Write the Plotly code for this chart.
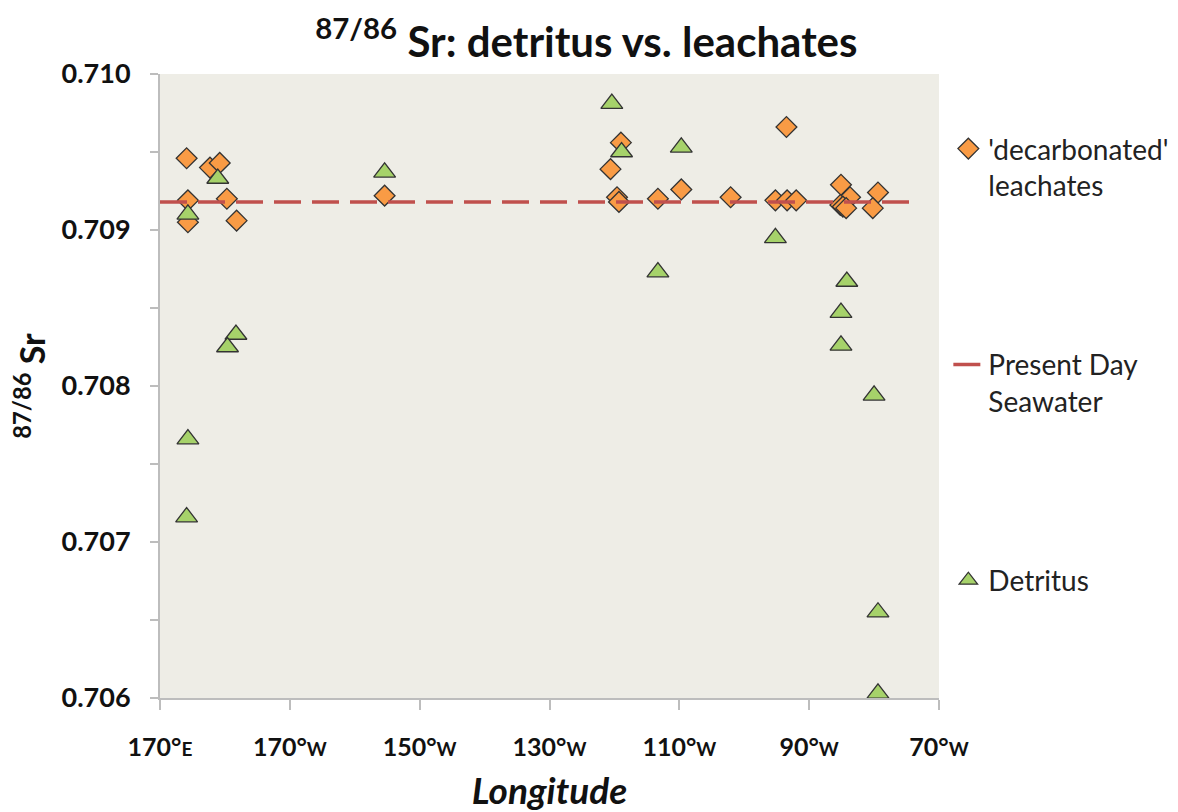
import plotly.graph_objects as go

# Longitude in degrees east (0-360 convention): 170E = 170, 170W = 190, ... 70W = 290
leach_lon = [174.1, 177.7, 179.2, 174.3, 174.3, 180.3, 181.8, 204.6,
             239.4, 241.0, 240.4, 240.7, 246.7, 250.3, 257.9, 264.8,
             266.6, 268.0, 266.5, 274.9, 276.3, 274.8, 275.2, 275.7,
             280.6, 279.8]
leach_sr = [0.70946, 0.70940, 0.70943, 0.70919, 0.70905, 0.70920, 0.70906, 0.70922,
            0.70939, 0.70956, 0.70921, 0.70918, 0.70920, 0.70926, 0.70921, 0.70919,
            0.70919, 0.70919, 0.70966, 0.70929, 0.70921, 0.70916, 0.70915, 0.70914,
            0.70924, 0.70914]

detritus_lon = [239.6, 241.1, 250.3, 246.7, 264.8, 275.8, 274.9, 274.9,
                280.0, 280.6, 280.6, 178.9, 174.3, 204.6, 181.7, 180.4,
                174.3, 174.1]
detritus_sr = [0.70981, 0.70950, 0.70953, 0.70873, 0.70895, 0.70867, 0.70847, 0.70826,
               0.70794, 0.70655, 0.70603, 0.70933, 0.70910, 0.70937, 0.70833, 0.70825,
               0.70766, 0.70716]

seawater_lon = [170, 286.4]
seawater_sr = [0.70918, 0.70918]

tick_vals = [170, 190, 210, 230, 250, 270, 290]
small = "<span style='font-size:19px'>{}</span>"
tick_text = ["<b>170°" + small.format("E") + "</b>", "<b>170°" + small.format("W") + "</b>",
             "<b>150°" + small.format("W") + "</b>", "<b>130°" + small.format("W") + "</b>",
             "<b>110°" + small.format("W") + "</b>", "<b>90°" + small.format("W") + "</b>",
             "<b>70°" + small.format("W") + "</b>"]

FONT = "Lato"
EDGE = "#333333"

fig = go.Figure()
fig.add_trace(go.Scatter(
    x=leach_lon, y=leach_sr, mode="markers",
    name="'decarbonated'<br>leachates", legendgroup="a",
    marker=dict(symbol="diamond", size=16, color="#F99B45",
                line=dict(color=EDGE, width=1.3)),
))
fig.add_trace(go.Scatter(
    x=seawater_lon, y=seawater_sr, mode="lines",
    name="Present Day<br>Seawater", legendgroup="b",
    line=dict(color="#C0504D", width=3.5, dash="27px,11px"),
))
fig.add_trace(go.Scatter(
    x=detritus_lon, y=detritus_sr, mode="markers",
    name="Detritus", legendgroup="c",
    marker=dict(symbol="triangle-up", size=19, color="#A6D26A",
                line=dict(color=EDGE, width=1.3)),
))

fig.update_layout(
    width=1178, height=812,
    margin=dict(l=152, r=245, t=66, b=122),
    paper_bgcolor="white",
    plot_bgcolor="#EEEDE6",
    font=dict(family=FONT, color="#111111"),
    title=dict(
        text="<b><sup>87/86</sup> Sr: detritus vs. leachates</b>",
        font=dict(family=FONT, size=42, color="#111111"),
        x=0.491, xanchor="center", y=0.958, yanchor="middle",
    ),
    showlegend=True,
    legend=dict(
        x=1.012, xanchor="left", y=0.92, yanchor="top",
        font=dict(family=FONT, size=28, color="#222222"),
        tracegroupgap=140, valign="top",
        bgcolor="rgba(0,0,0,0)",
    ),
    xaxis=dict(
        range=[170, 290], tickmode="array", tickvals=tick_vals, ticktext=tick_text,
        showgrid=False, zeroline=False,
        showline=True, linecolor="#BDBDBD", linewidth=2,
        ticks="outside", ticklen=10, tickcolor="#BDBDBD", tickwidth=2,
        tickfont=dict(family=FONT, size=25, color="#111111"),
        ticklabelstandoff=16,
        title=dict(text="<b><i>Longitude</i></b>",
                   font=dict(family=FONT, size=37, color="#111111"), standoff=18),
    ),
    yaxis=dict(
        range=[0.706, 0.710], tickmode="array",
        tickvals=[0.706, 0.707, 0.708, 0.709, 0.710],
        ticktext=["<b>0.706</b>", "<b>0.707</b>", "<b>0.708</b>", "<b>0.709</b>", "<b>0.710</b>"],
        showgrid=False, zeroline=False,
        showline=True, linecolor="#BDBDBD", linewidth=2,
        ticks="outside", ticklen=8, tickcolor="#BDBDBD", tickwidth=2,
        minor=dict(dtick=0.0005, tick0=0.706, ticks="outside", ticklen=8,
                   tickcolor="#BDBDBD", tickwidth=2, showgrid=False),
        tickfont=dict(family=FONT, size=27, color="#111111"),
        ticklabelstandoff=14,
        title=dict(text="<b><sup>87/86</sup> Sr</b>",
                   font=dict(family=FONT, size=34, color="#111111"), standoff=14),
    ),
)

fig.write_html("out.html")
